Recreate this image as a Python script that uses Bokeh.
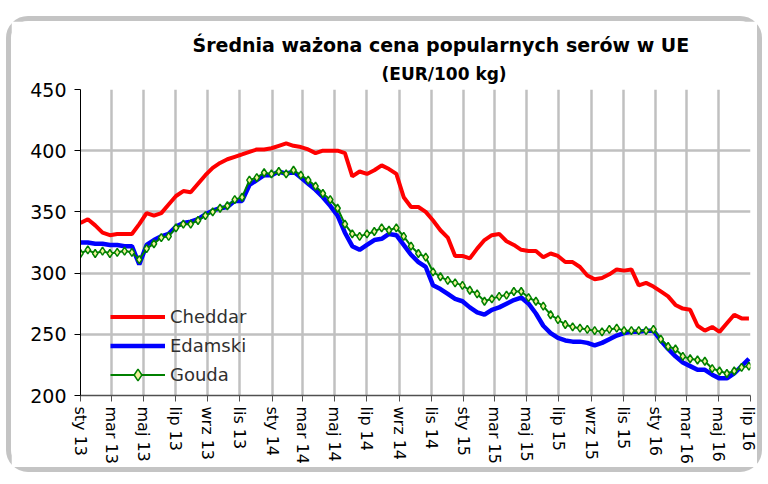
import datetime as dt
from bokeh.plotting import figure
from bokeh.models import FixedTicker, Legend, LegendItem, Title
from bokeh.embed import file_html
from bokeh.resources import INLINE

# ---------------- data ----------------
start_date = dt.date(2013, 1, 1)
step_days = 14  # one reading every two weeks

cheddar = [341, 344, 339, 333, 331, 332, 332, 332, 340, 349, 347, 349, 356, 363, 367, 366,
           373, 380, 386, 390, 393, 395, 397, 399, 401, 401, 402, 404, 406, 404, 403, 401,
           398, 400, 400, 400, 398, 379, 383, 381, 384, 388, 385, 381, 362, 354, 354, 350,
           343, 335, 329, 314, 314, 312, 320, 327, 331, 332, 326, 323, 319, 318, 318, 313,
           316, 314, 309, 309, 305, 298, 295, 296, 299, 303, 302, 303, 290, 292, 289, 285,
           281, 274, 271, 270, 257, 253, 256, 252, 259, 266, 263, 263]

edamski = [325, 325, 324, 324, 323, 323, 322, 322, 307, 323, 327, 330, 332, 338, 341, 342,
           344, 348, 351, 353, 354, 359, 359, 372, 376, 380, 380, 383, 381, 383, 378, 373,
           368, 362, 355, 347, 333, 322, 319, 323, 327, 328, 332, 331, 323, 315, 309, 305,
           290, 287, 283, 279, 277, 272, 268, 266, 270, 272, 275, 278, 280, 275, 267, 257,
           251, 247, 245, 244, 244, 243, 241, 243, 246, 249, 251, 252, 252, 253, 253, 245,
           238, 232, 227, 224, 221, 221, 217, 214, 214, 218, 224, 230]

gouda = [316, 319, 316, 318, 316, 317, 318, 317, 311, 320, 324, 329, 330, 337, 340, 340,
         343, 347, 350, 353, 355, 360, 362, 376, 378, 382, 381, 383, 381, 384, 380, 376,
         371, 365, 360, 353, 340, 332, 330, 332, 334, 337, 335, 337, 330, 322, 316, 313,
         301, 297, 294, 292, 290, 286, 283, 277, 279, 281, 282, 285, 285, 280, 277, 273,
         266, 262, 258, 256, 255, 254, 253, 252, 254, 255, 253, 253, 253, 253, 254, 246,
         240, 238, 232, 230, 229, 228, 222, 220, 218, 220, 223, 224]

tick_labels = ["sty 13", "mar 13", "maj 13", "lip 13", "wrz 13", "lis 13",
               "sty 14", "mar 14", "maj 14", "lip 14", "wrz 14", "lis 14",
               "sty 15", "mar 15", "maj 15", "lip 15", "wrz 15", "lis 15",
               "sty 16", "mar 16", "maj 16", "lip 16"]
y_ticks = [200, 250, 300, 350, 400, 450]

title_line1 = "Średnia ważona cena popularnych serów w UE"
title_line2 = "(EUR/100 kg)"

# ---------------- derived ----------------
days = [i * step_days for i in range(len(cheddar))]
tick_days = []
for k in range(len(tick_labels)):
    d = dt.date(2013 + k // 6, 1 + 2 * (k % 6), 1)
    tick_days.append((d - start_date).days)

FONT = "DejaVu Sans"

p = figure(frame_width=670, frame_height=306, output_backend="svg", toolbar_location=None,
           x_range=(tick_days[0], tick_days[-1]), y_range=(200, 450),
           min_border_left=69, min_border_right=7, min_border_top=68, min_border_bottom=72)
p.styles = {"border": "5px solid #c4c4c4", "border-radius": "22px",
            "margin-top": "16px", "margin-left": "6px"}
p.outline_line_color = None
p.background_fill_color = "white"
p.border_fill_color = "white"

# titles (line 2 first: later additions are placed further from the plot)
p.add_layout(Title(text=title_line2, align="left", offset=301, text_font=FONT,
                   text_font_size="17px", text_font_style="bold", text_color="black",
                   standoff=12), "above")
p.add_layout(Title(text=title_line1, align="left", offset=112, text_font=FONT,
                   text_font_size="19px", text_font_style="bold", text_color="black",
                   standoff=0), "above")

# axes
p.xaxis.ticker = FixedTicker(ticks=tick_days)
p.xaxis.major_label_overrides = {t: lab for t, lab in zip(tick_days, tick_labels)}
p.xaxis.major_label_orientation = "vertical"
p.xaxis.major_label_text_font = FONT
p.xaxis.major_label_text_font_size = "16px"
p.xaxis.major_label_text_color = "black"
p.xaxis.axis_line_color = "#505050"
p.xaxis.axis_line_width = 1.5
p.xaxis.major_tick_line_color = "#505050"
p.xaxis.major_tick_out = 6
p.xaxis.major_tick_in = 0
p.xaxis.minor_tick_line_color = None
p.xaxis.major_label_standoff = 5

p.yaxis.ticker = FixedTicker(ticks=y_ticks)
p.yaxis.major_label_text_font = FONT
p.yaxis.major_label_text_font_size = "19px"
p.yaxis.major_label_text_color = "black"
p.yaxis.axis_line_color = "black"
p.yaxis.major_tick_line_color = "black"
p.yaxis.major_tick_out = 6
p.yaxis.major_tick_in = 0
p.yaxis.minor_tick_line_color = None
p.yaxis.major_label_standoff = 8

p.xgrid.ticker = FixedTicker(ticks=tick_days)
p.ygrid.ticker = FixedTicker(ticks=y_ticks)
for g in (p.xgrid, p.ygrid):
    g.grid_line_color = "#c0c0c0"
    g.grid_line_width = 2.5

# series
r_ch = p.line(days, cheddar, line_color="#ff0000", line_width=4)
r_ed = p.line(days, edamski, line_color="#0000ff", line_width=4.5)
r_go = p.line(days, gouda, line_color="#008000", line_width=2)
r_gm = p.scatter(days, gouda, marker="diamond", size=8, fill_color="#f2f29a",
                 line_color="#008000", line_width=1.5)

legend = Legend(items=[LegendItem(label="Cheddar", renderers=[r_ch]),
                       LegendItem(label="Edamski", renderers=[r_ed]),
                       LegendItem(label="Gouda", renderers=[r_go, r_gm])],
                location=(30, 6), orientation="vertical")
legend.border_line_color = None
legend.background_fill_alpha = 0
legend.padding = 0
legend.margin = 0
legend.spacing = 0
legend.glyph_width = 55
legend.glyph_height = 29
legend.label_height = 29
legend.label_standoff = 5
legend.label_text_font = FONT
legend.label_text_font_size = "18px"
legend.label_text_color = "#303030"
p.add_layout(legend)

open("out.html", "w").write(file_html(p, INLINE))
